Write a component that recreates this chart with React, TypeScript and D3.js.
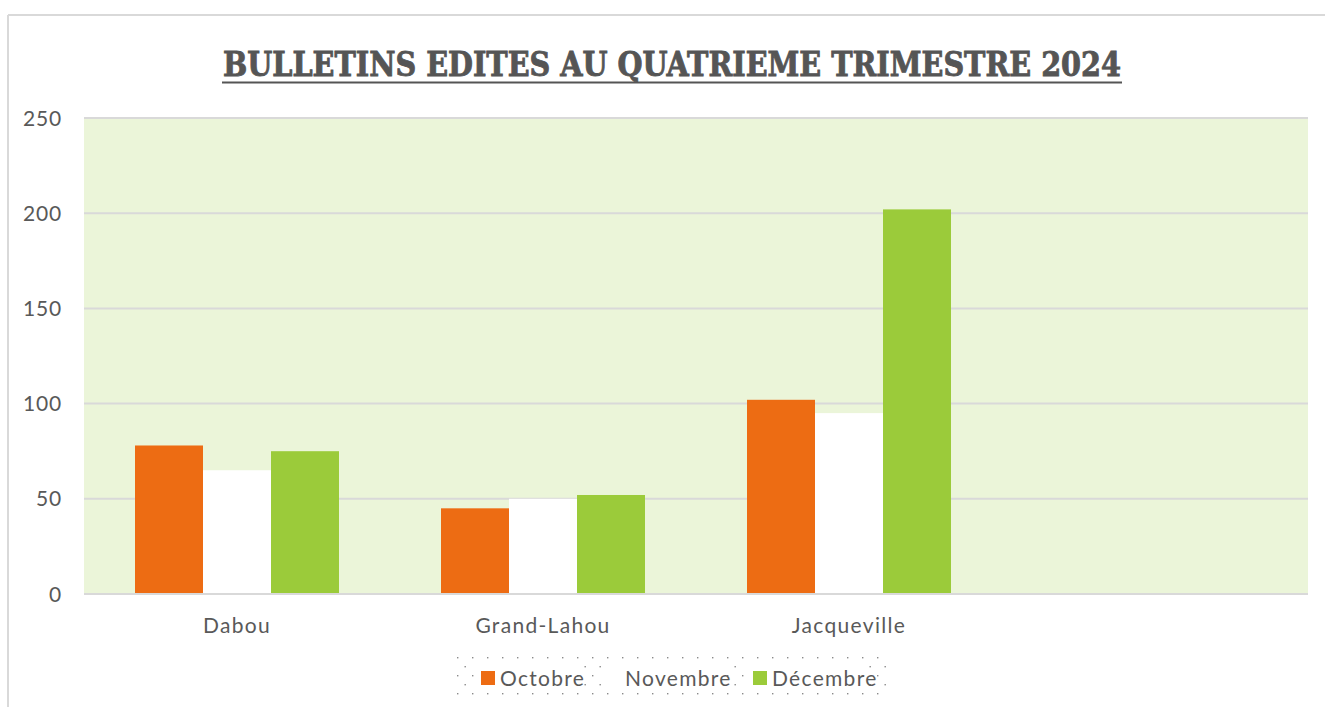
import React from "react";
import * as d3 from "d3";

const categories = ["Dabou", "Grand-Lahou", "Jacqueville", ""];
const seriesNames = ["Octobre", "Novembre", "Décembre"];
const octobre = [78, 45, 102, null];
const novembre = [65, 50, 95, null];
const decembre = [75, 52, 202, null];
const yTicks = [0, 50, 100, 150, 200, 250];
const colors = ["#ED6C13", "#FFFFFF", "#9BCB3A"];

const W = 1325;
const H = 707;
const plot = { left: 84, right: 1308, top: 118, bottom: 594 };

export default function App() {
  const series = [octobre, novembre, decembre];
  const x = d3.scaleBand().domain(categories.map((c, i) => String(i))).range([plot.left, plot.right]).paddingInner(0).paddingOuter(0);
  const y = d3.scaleLinear().domain([0, 250]).range([plot.bottom, plot.top]);
  const groupW = x.bandwidth() * (2 / 3);
  const x1 = d3.scaleBand().domain(seriesNames).range([0, groupW]).padding(0);
  const font = "Lato, 'Open Sans', sans-serif";
  const legendItems = [
    { name: seriesNames[0], sx: 481, tx: 500, tw: 80 },
    { name: seriesNames[1], sx: 606, tx: 625, tw: 103 },
    { name: seriesNames[2], sx: 753, tx: 772, tw: 100 },
  ];
  return (
    <svg width={W} height={H} style={{ position: "absolute", left: 0, top: 0, display: "block" }}>
      <defs>
        <pattern id="dots" x="456" y="656" width="15" height="18" patternUnits="userSpaceOnUse">
          <rect x="1" y="1" width="1.4" height="1.4" fill="#8a8a8a" />
          <rect x="8.5" y="10" width="1.4" height="1.4" fill="#8a8a8a" />
        </pattern>
      </defs>
      <rect x={0} y={0} width={W} height={H} fill="#fff" />
      <line x1={8} x2={8} y1={15} y2={H} stroke="#d9d9d9" strokeWidth={2} />
      <line x1={8} x2={W} y1={15} y2={15} stroke="#d9d9d9" strokeWidth={2} />
      <text
        x={672}
        y={76}
        textAnchor="middle"
        fontFamily="'DejaVu Serif Condensed', 'DejaVu Serif', serif"
        fontWeight="bold"
        fontSize={33}
        fill="#555555"
        stroke="#555555"
        strokeWidth={0.8}
        textLength={898}
        lengthAdjust="spacingAndGlyphs"
      >
        BULLETINS EDITES AU QUATRIEME TRIMESTRE 2024
      </text>
      <line x1={222} x2={1122} y1={82.5} y2={82.5} stroke="#555555" strokeWidth={2.2} />
      <rect x={plot.left} y={plot.top} width={plot.right - plot.left} height={plot.bottom - plot.top} fill="#EBF5D9" />
      {yTicks.map((t) => (
        <g key={t}>
          {t > 0 && <line x1={plot.left} x2={plot.right} y1={y(t)} y2={y(t)} stroke="#d9d9d9" strokeWidth={2} />}
          <text x={62} y={y(t)} dy="0.36em" textAnchor="end" fontFamily={font} fontSize={21} letterSpacing={0.8} fill="#595959">
            {t}
          </text>
        </g>
      ))}
      {categories.map((c, i) =>
        series.map((s, j) => {
          const v = s[i];
          if (v == null) return null;
          const bx = (x(String(i)) as number) + (x.bandwidth() - groupW) / 2 + (x1(seriesNames[j]) as number);
          return <rect key={`${i}-${j}`} x={bx} y={y(v)} width={x1.bandwidth()} height={y(0) - y(v)} fill={colors[j]} />;
        })
      )}
      <line x1={plot.left} x2={plot.right} y1={plot.bottom} y2={plot.bottom} stroke="#d9d9d9" strokeWidth={2} />
      {categories.map((c, i) => (
        <text key={i} x={(x(String(i)) as number) + x.bandwidth() / 2} y={625} dy="0.36em" textAnchor="middle" fontFamily={font} fontSize={21} letterSpacing={1.3} fill="#595959">
          {c}
        </text>
      ))}
      <rect x={455} y={656} width={433} height={40} fill="url(#dots)" />
      {legendItems.map((it, j) => (
        <rect key={"bg" + j} x={it.sx - 4} y={663} width={it.tx - it.sx + it.tw} height={26} fill="#fff" />
      ))}
      {legendItems.map((it, j) => (
        <g key={it.name}>
          {j !== 1 && <rect x={it.sx} y={671} width={14} height={14} fill={colors[j]} />}
          <text x={it.tx} y={678} dy="0.36em" fontFamily={font} fontSize={21} letterSpacing={1.3} fill="#595959">
            {it.name}
          </text>
        </g>
      ))}
    </svg>
  );
}
